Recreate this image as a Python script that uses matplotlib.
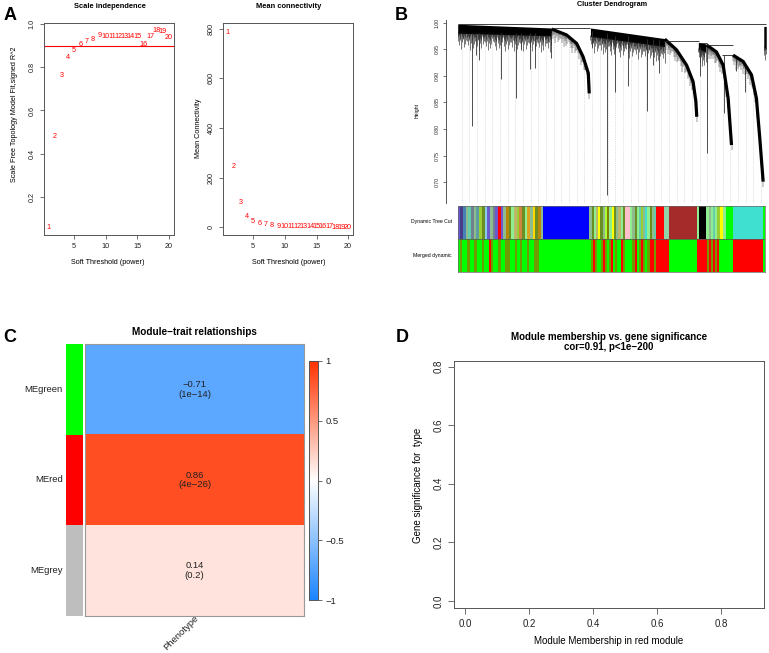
import numpy as np
import matplotlib
matplotlib.use('Agg')
import matplotlib.pyplot as plt
from matplotlib.colors import LinearSegmentedColormap

plt.rcParams['font.family'] = ['Liberation Sans', 'DejaVu Sans']

# ---------------- DATA ----------------
# Panel A: soft-threshold analysis
powers = list(range(1, 21))
sft_r2 = [0.058, 0.479, 0.760, 0.844, 0.877, 0.906, 0.920, 0.930, 0.946, 0.943,
          0.940, 0.943, 0.943, 0.943, 0.943, 0.906, 0.943, 0.969, 0.963, 0.938]
r2_cutoff = 0.90
mean_k = [785, 245, 98, 44, 24, 14, 9, 6, 4, 3, 2, 2, 1.5, 1.2, 1, 1, 0.8, 0.6, 0.5, 0.4]
a_xticks = [5, 10, 15, 20]
a_yticks_left = [0.2, 0.4, 0.6, 0.8, 1.0]
a_yticks_right = [0, 200, 400, 600, 800]

# Panel B: dendrogram outline (leaf position in % of tree width, height)
band_x0 = [0.0, 43.2, 78.3, 99.6]
band_x1 = [30.6, 67.4, 80.8, 100.4]
band_top0 = [0.997, 0.990, 0.963, 0.993]
band_top1 = [0.990, 0.970, 0.960, 0.993]
band_bot0 = [0.980, 0.974, 0.950, 0.955]
band_bot1 = [0.975, 0.955, 0.945, 0.950]
curve_x = [[30.6, 35.4, 38.7, 40.8, 42.5, 42.8],
           [67.4, 71.2, 74.5, 76.6, 77.5, 77.8],
           [81.0, 84.2, 86.4, 88.0, 89.1],
           [89.6, 92.9, 95.6, 97.2, 98.3, 99.4]]
curve_h = [[0.988, 0.977, 0.961, 0.936, 0.905, 0.867],
           [0.969, 0.949, 0.920, 0.889, 0.852, 0.823],
           [0.958, 0.945, 0.920, 0.858, 0.770],
           [0.939, 0.927, 0.902, 0.858, 0.783, 0.701]]
spike_x = [4.75, 5.8, 6.9, 14.0, 19.0, 20.6, 23.5, 25.0, 30.3, 43.6, 48.5, 51.2,
           55.5, 61.5, 63.5, 65.4, 78.9, 81.0, 86.8, 90.5, 93.5]
spike_top = [0.98, 0.98, 0.98, 0.98, 0.98, 0.98, 0.98, 0.98, 0.98, 0.985, 0.98, 0.975,
             0.975, 0.97, 0.97, 0.968, 0.955, 0.958, 0.94, 0.935, 0.925]
spike_bot = [0.805, 0.94, 0.93, 0.895, 0.859, 0.949, 0.913, 0.914, 0.933, 0.955, 0.676, 0.870,
             0.880, 0.833, 0.92, 0.905, 0.90, 0.755, 0.83, 0.91, 0.87]
merge_x0 = [0.0, 30.6, 67.4, 78.6, 81.0, 86.0]
merge_x1 = [100.4, 43.2, 78.6, 81.0, 89.6, 89.6]
merge_h = [0.997, 0.990, 0.966, 0.962, 0.958, 0.940]
comb_depth = [0.006, 0.014, 0.004, 0.022, 0.009, 0.012, 0.030, 0.005, 0.017, 0.008,
              0.011, 0.026, 0.003, 0.019, 0.007, 0.013]
height_ticks = [0.70, 0.75, 0.80, 0.85, 0.90, 0.95, 1.00]

# Panel B: module colour bars (segment start/end in % of tree width)
dyn_x0 = [0.0, 27.9, 42.8, 54.4, 56.1, 64.5, 67.1, 68.7, 77.9, 78.6, 80.9, 85.2, 86.3, 87.2, 89.5, 99.2]
dyn_x1 = [27.9, 42.8, 54.4, 56.1, 64.5, 67.1, 68.7, 77.9, 78.6, 80.9, 85.2, 86.3, 87.2, 89.5, 99.2, 100.0]
dyn_col = ['S1', '#0000FF', 'S2', '#FFC0CB', 'S3', '#FF0000', '#8FD3A8', '#A52A2A', '#90EE90',
           '#000000', 'S4', '#FFFF00', '#90EE90', '#00FF00', '#40E0D0', '#00FF00']
dyn_stripes = {
    'S1': ['#6A5ACD', '#483D8B', '#4682B4', '#8FBC8F', '#66CDAA', '#708090', '#8FBC8F', '#5F9EA0',
           '#9ACD32', '#6B8E23', '#87CEEB', '#6A5ACD', '#8FBC8F', '#708090', '#6A5ACD', '#FF0000',
           '#6A5ACD', '#8FBC8F', '#B8860B', '#6B8E23', '#90EE90', '#BDB76B', '#9ACD32', '#CD853F',
           '#6B8E23', '#90EE90', '#DAA520', '#8FBC8F', '#FFD700', '#6B8E23', '#B8860B', '#8FBC8F'],
    'S2': ['#8FBC8F', '#6B8E23', '#90EE90', '#BDB76B', '#FFFF00', '#6B8E23', '#8FBC8F', '#ADFF2F',
           '#808000', '#90EE90', '#FFFF00', '#6B8E23', '#8FBC8F', '#BDB76B', '#90EE90', '#6B8E23'],
    'S3': ['#90EE90', '#8FBC8F', '#6B8E23', '#90EE90', '#66CDAA', '#9ACD32', '#8FBC8F', '#40E0D0',
           '#90EE90', '#6B8E23', '#8FBC8F', '#66CDAA'],
    'S4': ['#90EE90', '#8FBC8F', '#90EE90', '#66CDAA', '#90EE90', '#9ACD32'],
}
mrg_x0 = [0.0, 27.9, 42.8, 54.4, 56.1, 64.5, 68.7, 77.9, 81.2, 84.9, 89.5, 99.2]
mrg_x1 = [27.9, 42.8, 54.4, 56.1, 64.5, 68.7, 77.9, 81.2, 84.9, 89.5, 99.2, 100.0]
mrg_col = ['M1', 'G', 'M2', 'G', 'M3', 'R', 'G', 'R', 'M4', 'G', 'R', 'G']
mrg_stripes = {
    'M1': 'GOGGOGGOGGOGGROGGOGGOOGGOGOGGOGGOOGG',
    'M2': 'GOROGGOROGORGOGGRO',
    'M3': 'GORGOROGORRO',
    'M4': 'OROROR',
}
mrg_palette = {'G': '#00FF00', 'O': '#6F9A00', 'R': '#FF0000'}

# Panel C: module-trait relationships
modules = ['MEgreen', 'MEred', 'MEgrey']
module_colors = ['#00FF00', '#FF0000', '#BEBEBE']
trait = 'Phenotype'
cor_values = [-0.71, 0.86, 0.14]
p_labels = ['1e\u221214', '4e\u221226', '0.2']
cbar_ticks = [-1, -0.5, 0, 0.5, 1]

# Panel D: module membership vs gene significance (no points visible)
module_membership = []
gene_significance = []
d_ticks_x = [0.0, 0.2, 0.4, 0.6, 0.8]
d_ticks_y = [0.0, 0.2, 0.4, 0.6, 0.8]

# ---------------- FIGURE ----------------
W, H = 769, 653
fig = plt.figure(figsize=(W / 100, H / 100), dpi=100)


def px_axes(l, t, r, b):
    return fig.add_axes([l / W, 1 - b / H, (r - l) / W, (b - t) / H])


def ftext(x, y, s, **kw):
    kw.setdefault('ha', 'center')
    kw.setdefault('va', 'center')
    return fig.text(x / W, 1 - y / H, s, **kw)


def r_style(ax, fs, color='#555555', length=3, pad=2):
    for s in ax.spines.values():
        s.set_color(color)
        s.set_linewidth(0.7)
    ax.tick_params(length=length, width=0.6, color=color, labelsize=fs, pad=pad,
                   labelcolor='#222222')


SMALL = 5.2
# ---- Panel A left
ax1 = px_axes(43.8, 22.7, 173.8, 235)
ax1.set_xlim(0.24, 20.76)
ax1.set_ylim(0.024, 1.006)
for p, v in zip(powers, sft_r2):
    ax1.text(p, v, str(p), color='red', ha='center', va='center', fontsize=SMALL)
ax1.axhline(r2_cutoff, color='red', lw=0.8)
ax1.set_xticks(a_xticks)
ax1.set_xticklabels([str(t) for t in a_xticks])
ax1.set_yticks(a_yticks_left)
ax1.set_yticklabels(['%.1f' % t for t in a_yticks_left], rotation=90, va='center')
r_style(ax1, SMALL, pad=3)
ftext(110, 6, 'Scale independence', fontsize=5.4, fontweight='bold')
ftext(15, 114, 'Scale Free Topology Model Fit,signed R^2', fontsize=SMALL, rotation=90)
ftext(108, 263, 'Soft Threshold (power)', fontsize=SMALL)

# ---- Panel A right
ax2 = px_axes(223, 23.3, 353, 235)
ax2.set_xlim(0.24, 20.76)
ax2.set_ylim(-31.6, 822)
for p, v in zip(powers, mean_k):
    ax2.text(p, v, str(p), color='red', ha='center', va='center', fontsize=SMALL)
ax2.set_xticks(a_xticks)
ax2.set_xticklabels([str(t) for t in a_xticks])
ax2.set_yticks(a_yticks_right)
ax2.set_yticklabels([str(t) for t in a_yticks_right], rotation=90, va='center')
r_style(ax2, SMALL, pad=3)
ftext(289, 6, 'Mean connectivity', fontsize=5.4, fontweight='bold')
ftext(199, 128, 'Mean Connectivity', fontsize=SMALL, rotation=90)
ftext(289, 263, 'Soft Threshold (power)', fontsize=SMALL)

# ---- Panel B dendrogram
axd = px_axes(446, 20, 769, 203)
axd.set_xlim(-3.8, 101.3)
axd.set_ylim(0.661, 1.005)
for s in ['top', 'right', 'bottom']:
    axd.spines[s].set_visible(False)
axd.set_xticks([])
axd.set_yticks(height_ticks)
axd.set_yticklabels(['%.2f' % t for t in height_ticks], rotation=90, va='center')
r_style(axd, 3.7, length=2.5, pad=2)


def floor_at(x):
    f = 0.997
    for i in range(len(band_x0)):
        if band_x0[i] <= x <= band_x1[i]:
            f = min(f, np.interp(x, [band_x0[i], band_x1[i]], [band_bot0[i], band_bot1[i]]))
    for cx, ch in zip(curve_x, curve_h):
        if cx[0] <= x <= cx[-1]:
            f = min(f, np.interp(x, cx, ch) - 0.01)
    return f


guide_x = np.arange(1.25, 100, 2.5)
for gx in guide_x:
    axd.plot([gx, gx], [0.661, floor_at(gx)], color='#d2d2d2', lw=0.45,
             ls=(0, (2, 1.5)), zorder=0)

for i in range(len(band_x0)):
    xs = [band_x0[i], band_x1[i]]
    axd.fill_between(xs, [band_bot0[i], band_bot1[i]], [band_top0[i], band_top1[i]],
                     color='black', lw=0, zorder=2)
    cx = np.arange(band_x0[i], band_x1[i], 0.18)
    bt = np.interp(cx, xs, [band_bot0[i], band_bot1[i]])
    dep = np.array([comb_depth[k % len(comb_depth)] for k in range(len(cx))])
    axd.vlines(cx, bt - dep, bt + 0.002, color='#111111', lw=0.4, zorder=2)

for cx, ch in zip(curve_x, curve_h):
    xs = np.linspace(cx[0], cx[-1], 70)
    hs = np.interp(xs, cx, ch)
    dep = np.array([comb_depth[k % len(comb_depth)] for k in range(len(xs))])
    axd.vlines(xs, hs - dep * 0.8, hs, color='#333333', lw=0.35, zorder=2)
    axd.plot(cx, ch, color='black', lw=2.3, solid_capstyle='butt', zorder=3)

axd.vlines(spike_x, spike_bot, spike_top, color='#333333', lw=0.6, zorder=2)
axd.hlines(merge_h, merge_x0, merge_x1, color='#222222', lw=0.6, zorder=3)
ftext(612, 5, 'Cluster Dendrogram', fontsize=5.2, fontweight='bold')
ftext(417, 110, 'Height', fontsize=3.7, rotation=90)

# colour bars
axc = px_axes(457.7, 205.7, 765.2, 272.3)
axc.set_xlim(0, 100)
axc.set_ylim(2, 0)
axc.set_xticks([])
axc.set_yticks([])


def draw_row(row, x0s, x1s, cols, stripes, palette=None):
    for a, b, c in zip(x0s, x1s, cols):
        if c in stripes:
            seq = stripes[c]
            n = len(seq)
            w = (b - a) / n
            for k, sc in enumerate(seq):
                col = palette[sc] if palette else sc
                axc.bar(a + k * w, 1, width=w, bottom=row, color=col, align='edge', lw=0)
        else:
            col = palette[c] if palette and c in palette else c
            axc.bar(a, 1, width=b - a, bottom=row, color=col, align='edge', lw=0)


draw_row(0, dyn_x0, dyn_x1, dyn_col, dyn_stripes)
draw_row(1, mrg_x0, mrg_x1, mrg_col, mrg_stripes, mrg_palette)
axc.axhline(1, color='#555555', lw=0.5)
for s in axc.spines.values():
    s.set_color('#666666')
    s.set_linewidth(0.5)
ftext(452, 222, 'Dynamic Tree Cut', fontsize=3.7, ha='right')
ftext(452, 255, 'Merged dynamic', fontsize=3.7, ha='right')

# ---- Panel C heatmap
cmap = LinearSegmentedColormap.from_list('bwr_wgcna', ['#1A84FF', '#FFFFFF', '#FF3300'])
axh = px_axes(85, 344.3, 304.3, 615.7)
axh.imshow(np.array(cor_values).reshape(-1, 1), cmap=cmap, vmin=-1, vmax=1,
           aspect='auto', extent=(0, 1, len(modules), 0), interpolation='nearest')
for i, (v, p) in enumerate(zip(cor_values, p_labels)):
    lab = ('%.2f' % v).replace('-', '\u2212')
    axh.text(0.5, i + 0.5, lab + '\n(' + p + ')', ha='center', va='center',
             fontsize=6.8, color='#222222', linespacing=1.05)
axh.set_xticks([])
axh.set_yticks([])
for s in axh.spines.values():
    s.set_color('#999999')
    s.set_linewidth(0.8)

axs = px_axes(65.7, 344.3, 82.7, 615.7)
axs.set_xlim(0, 1)
axs.set_ylim(len(modules), 0)
for i, c in enumerate(module_colors):
    axs.bar(0, 1, width=1, bottom=i, color=c, align='edge', lw=0)
axs.axis('off')
for i, m in enumerate(modules):
    ftext(62.7, 344.3 + (i + 0.5) * (615.7 - 344.3) / len(modules), m,
          fontsize=6.8, ha='right', color='#222222')
ftext(194.7, 332.3, 'Module\u2212trait relationships', fontsize=7.2, fontweight='bold')
fig.text(194 / W, 1 - 614 / H, trait, fontsize=6.8, rotation=45, ha='right', va='top',
         rotation_mode='anchor', color='#222222')

axcb = px_axes(309.3, 361, 318.3, 600)
grad = np.linspace(1, -1, 256).reshape(-1, 1)
axcb.imshow(grad, cmap=cmap, vmin=-1, vmax=1, aspect='auto', extent=(0, 1, -1, 1))
axcb.set_xticks([])
axcb.yaxis.tick_right()
axcb.set_yticks(cbar_ticks)
axcb.set_yticklabels([('%g' % t).replace('-', '\u2212') for t in cbar_ticks])
r_style(axcb, 6.8, color='#555555', length=3, pad=2)

# ---- Panel D
axD = px_axes(454.3, 361, 764.3, 608.3)
axD.scatter(module_membership, gene_significance, s=4, color='red')
axD.set_xlim(-0.034, 0.935)
axD.set_ylim(-0.025, 0.819)
axD.set_xticks(d_ticks_x)
axD.set_xticklabels(['%.1f' % t for t in d_ticks_x])
axD.set_yticks(d_ticks_y)
axD.set_yticklabels(['%.1f' % t for t in d_ticks_y], rotation=90, va='center')
r_style(axD, 7, length=4, pad=4)
ftext(609, 336.7, 'Module membership vs. gene significance', fontsize=7, fontweight='bold')
ftext(609, 347.3, 'cor=0.91, p<1e\u2212200', fontsize=7, fontweight='bold')
ftext(609, 641, 'Module Membership in red module', fontsize=7)
ftext(418, 485, 'Gene significance for  type', fontsize=7, rotation=90)

# ---- panel letters
for lab, x, y in [('A', 9.7, 15), ('B', 401, 15), ('C', 10, 337), ('D', 402, 337)]:
    ftext(x, y, lab, fontsize=13, fontweight='bold')

fig.savefig('out.png', dpi=100)
